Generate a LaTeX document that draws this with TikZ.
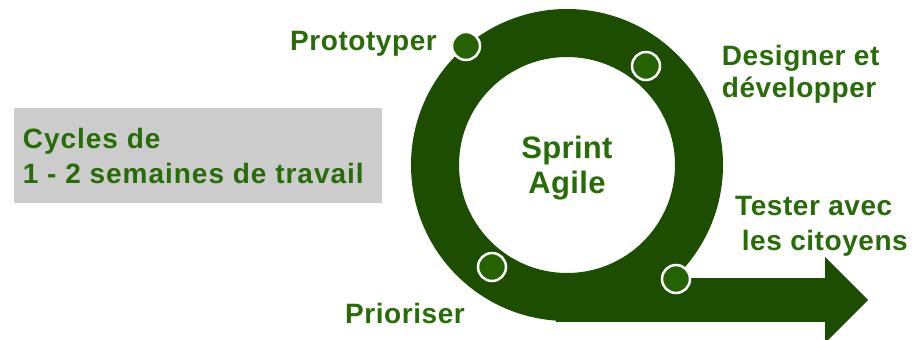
\documentclass[tikz,border=0pt]{standalone}
\usepackage{fontspec}
\setmainfont{Liberation Sans}
\definecolor{ringgreen}{RGB}{29,77,0}
\definecolor{dotgreen}{RGB}{36,98,2}
\definecolor{txtgreen}{RGB}{40,108,8}
\definecolor{boxgray}{RGB}{204,204,204}
\begin{document}
\begin{tikzpicture}[x=1pt,y=-1pt,
  lbl/.style={font=\fontsize{28}{33}\selectfont\bfseries\addfontfeature{LetterSpace=2},
    text=txtgreen, inner sep=0pt, anchor=base west},
  boxtxt/.style={lbl, font=\fontsize{28}{33}\selectfont\bfseries\addfontfeature{LetterSpace=3.5}},
  centertxt/.style={font=\fontsize{31}{36}\selectfont\bfseries\addfontfeature{LetterSpace=1},
    text=txtgreen, inner sep=0pt, anchor=base},
  dot/.style={circle, fill=dotgreen, draw=white, line width=2.5pt,
    minimum size=28pt, inner sep=0pt},
  graybox/.style={fill=boxgray, draw=none, inner sep=0pt}]
\useasboundingbox (0,0) rectangle (914,340);
% gray box
\node[graybox, minimum width=368pt, minimum height=95pt, anchor=north west] (box) at (14,108) {};
\node[boxtxt] (cyc1) at (22.7,148.3) {Cycles de};
\node[boxtxt] (cyc2) at (22.7,183) {1 - 2 semaines de travail};
% ring and arrow
\fill[ringgreen, even odd rule] (567,165) circle[radius=156pt] (567,165) circle[radius=108pt];
\fill[ringgreen] (556,278) rectangle (826,322);
\fill[ringgreen] (825,257) -- (868,300) -- (825,343) -- cycle;
% center text
\node[centertxt] (sprint) at (567,158.3) {Sprint};
\node[centertxt] (agile) at (567,193.3) {Agile};
% dots
\node[dot] (dproto) at (466,46) {};
\node[dot] (ddesign) at (646,66) {};
\node[dot] (dprio) at (492,267) {};
\node[dot] (dtest) at (676,279) {};
% labels
\node[lbl] (proto) at (290,50.7) {Prototyper};
\node[lbl] (design1) at (721.7,65) {Designer et};
\node[lbl] (design2) at (721.7,97.5) {développer};
\node[lbl] (test1) at (735,215) {Tester avec};
\node[lbl] (test2) at (741.7,250) {les citoyens};
\node[lbl] (prio) at (345,323) {Prioriser};
\end{tikzpicture}
\end{document}
